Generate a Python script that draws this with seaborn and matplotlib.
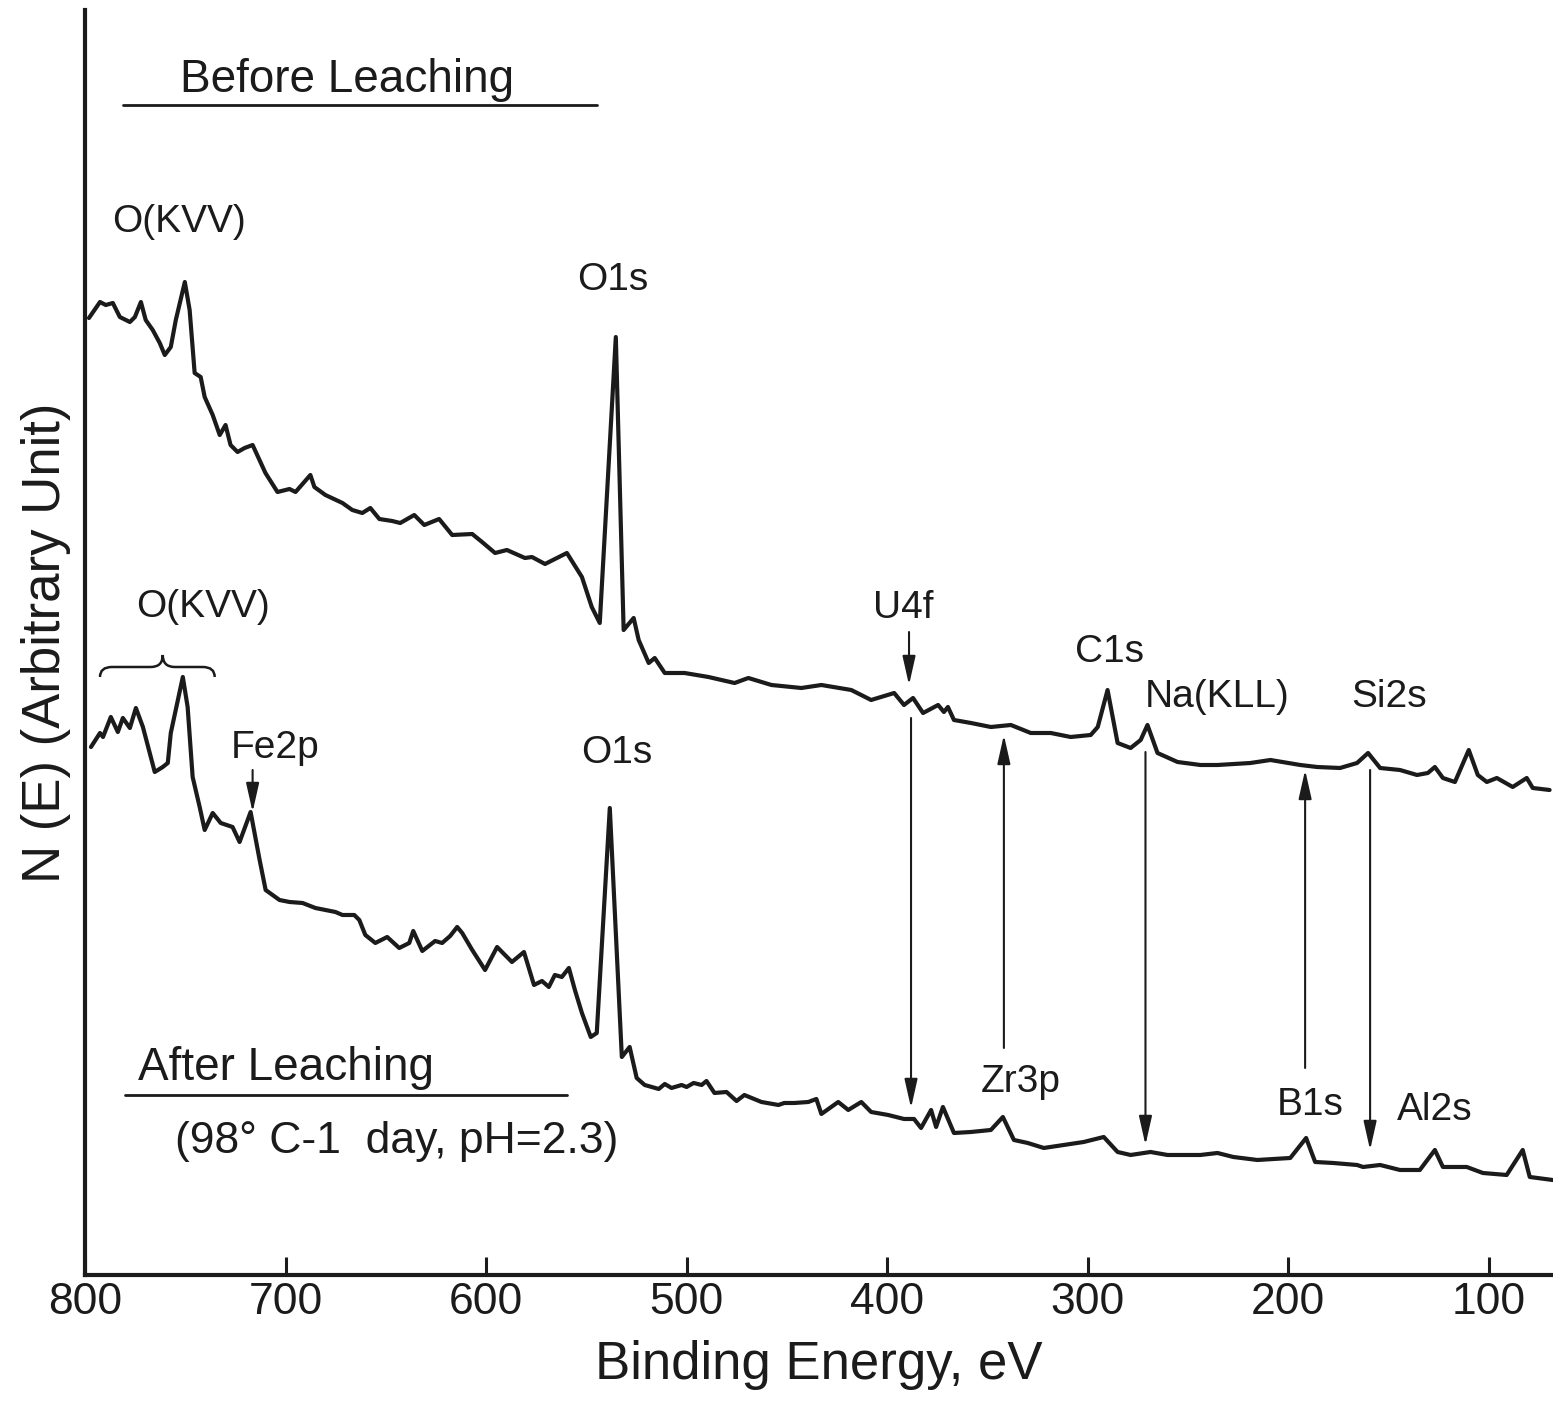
import matplotlib
matplotlib.use("Agg")
import matplotlib.pyplot as plt
from matplotlib.path import Path
from matplotlib.patches import PathPatch
import seaborn as sns
import pandas as pd

# ---------------------------------------------------------------------------
# XPS survey spectra (binding energy in eV, N(E) in a.u.)
# ---------------------------------------------------------------------------
be_before = [798.0, 792.5, 789.6, 786.1, 782.6, 777.6, 775.1, 772.1, 769.7, 766.2,
             762.7, 760.2, 757.2, 754.7, 750.2, 747.8, 745.3, 742.3, 740.3, 736.3,
             732.8, 729.9, 727.4, 723.9, 720.4, 716.4, 710.0, 704.0, 698.0, 695.0,
             687.6, 685.6, 680.1, 671.6, 666.7, 661.7, 657.7, 653.2, 646.8, 642.8,
             635.8, 630.8, 623.4, 616.9, 606.9, 602.0, 595.5, 589.6, 580.6, 577.1,
             570.6, 559.7, 552.2, 547.3, 543.3, 535.3, 531.4, 526.4, 523.9, 518.9,
             515.9, 510.9, 501.0, 489.1, 476.1, 469.2, 457.7, 442.8, 432.8, 417.9,
             408.0, 396.5, 391.6, 387.1, 382.1, 374.6, 371.7, 369.7, 366.7, 358.2,
             348.3, 338.3, 328.4, 318.4, 308.5, 298.5, 295.0, 290.1, 285.1, 278.6,
             273.6, 270.2, 265.2, 255.2, 243.8, 235.3, 218.9, 208.9, 194.0, 185.6,
             174.2, 165.7, 160.2, 154.2, 144.3, 135.8, 130.4, 126.9, 122.9, 116.9,
             110.0, 105.5, 101.0, 96.0, 88.1, 81.1, 78.1, 69.7]
n_before = [95.7, 97.3, 97.0, 97.2, 95.8, 95.3, 95.8, 97.3, 95.5, 94.5,
            93.2, 92.0, 92.8, 95.5, 99.3, 96.5, 90.2, 89.8, 87.8, 86.0,
            84.0, 85.0, 83.0, 82.3, 82.7, 83.0, 80.2, 78.3, 78.6, 78.3,
            80.0, 78.8, 78.0, 77.2, 76.5, 76.2, 76.7, 75.6, 75.4, 75.2,
            76.0, 75.0, 75.6, 74.0, 74.1, 73.3, 72.2, 72.5, 71.7, 71.8,
            71.1, 72.2, 69.8, 66.8, 65.2, 93.8, 64.5, 65.7, 63.5, 61.2,
            61.7, 60.2, 60.2, 59.8, 59.2, 59.7, 59.0, 58.7, 59.0, 58.5,
            57.5, 58.2, 57.0, 57.7, 56.2, 57.0, 56.3, 56.8, 55.5, 55.2,
            54.8, 55.0, 54.2, 54.2, 53.8, 54.0, 54.8, 58.5, 53.2, 52.7,
            53.5, 55.0, 52.2, 51.3, 51.0, 51.0, 51.2, 51.5, 51.0, 50.8,
            50.7, 51.2, 52.2, 50.7, 50.5, 50.0, 50.2, 50.8, 49.7, 49.3,
            52.5, 50.0, 49.3, 49.7, 48.8, 49.7, 48.7, 48.5]

be_after = [797.0, 792.5, 791.0, 787.1, 783.6, 781.1, 777.6, 774.6, 771.1, 767.7,
            765.2, 761.2, 758.7, 757.2, 751.2, 748.8, 746.3, 742.8, 740.3, 736.3,
            732.3, 726.4, 722.9, 717.4, 712.9, 709.9, 703.0, 698.0, 691.5, 685.1,
            675.1, 671.6, 665.7, 663.2, 660.2, 655.2, 649.3, 643.3, 638.3, 636.3,
            631.8, 625.4, 621.9, 617.9, 614.4, 611.9, 606.9, 600.5, 594.5, 587.1,
            581.1, 576.1, 572.1, 568.7, 565.7, 562.2, 558.7, 555.7, 552.2, 547.8,
            544.8, 538.3, 532.3, 528.4, 524.9, 520.9, 513.9, 510.9, 507.5, 502.5,
            500.0, 496.5, 492.5, 490.1, 486.1, 480.1, 475.1, 471.2, 462.7, 454.2,
            451.3, 446.3, 439.3, 435.3, 432.8, 424.4, 419.4, 412.9, 408.0, 399.5,
            391.6, 386.6, 383.1, 378.1, 375.6, 372.2, 366.7, 358.2, 348.3, 342.3,
            336.8, 329.9, 321.9, 312.0, 302.0, 292.0, 285.1, 278.6, 268.7, 260.2,
            243.8, 235.3, 227.4, 215.4, 199.0, 191.1, 186.6, 177.6, 165.7, 162.7,
            154.2, 144.3, 134.4, 126.9, 122.9, 111.0, 103.0, 91.1, 83.1, 79.6, 68.2]
n_after = [52.8, 54.2, 53.8, 55.8, 54.3, 55.7, 54.7, 56.7, 54.8, 52.2,
           50.3, 50.8, 51.2, 54.2, 59.8, 56.8, 49.8, 46.8, 44.5, 46.2,
           45.2, 44.8, 43.3, 46.3, 41.5, 38.5, 37.5, 37.3, 37.2, 36.7,
           36.3, 36.0, 36.0, 35.5, 34.0, 33.2, 33.8, 32.7, 33.2, 34.4,
           32.4, 33.4, 33.2, 33.9, 34.8, 34.2, 32.5, 30.5, 32.8, 31.3,
           32.3, 29.0, 29.4, 28.8, 30.0, 29.8, 30.7, 28.5, 26.2, 23.8,
           24.2, 46.7, 21.8, 22.8, 19.7, 19.0, 18.6, 19.1, 18.7, 19.0,
           18.8, 19.2, 19.0, 19.4, 18.2, 18.3, 17.4, 18.0, 17.3, 17.0,
           17.2, 17.2, 17.3, 17.6, 16.1, 17.3, 16.5, 17.3, 16.3, 16.0,
           15.6, 15.6, 14.7, 16.5, 14.8, 16.8, 14.2, 14.3, 14.5, 15.8,
           13.5, 13.2, 12.7, 13.0, 13.3, 13.8, 12.3, 12.0, 12.3, 12.0,
           12.0, 12.2, 11.8, 11.5, 11.7, 13.7, 11.3, 11.2, 11.0, 10.8,
           11.0, 10.5, 10.5, 12.5, 10.8, 10.8, 10.2, 10.0, 12.5, 9.8, 9.5]

x_ticks = [800, 700, 600, 500, 400, 300, 200, 100]

INK = "#1b1b1b"
FONT = ["Liberation Sans", "DejaVu Sans"]


def brace_path(x_left, x_mid, x_right, y_end, y_flat, y_tip, curl):
    """Curly brace opening downward, tip pointing up."""
    verts = [
        (x_left, y_end),
        (x_left, y_flat), (x_left - curl, y_flat),
        (x_mid + curl, y_flat),
        (x_mid, y_flat), (x_mid, y_tip),
        (x_mid, y_flat), (x_mid - curl, y_flat),
        (x_right + curl, y_flat),
        (x_right, y_flat), (x_right, y_end),
    ]
    codes = [Path.MOVETO,
             Path.CURVE3, Path.CURVE3,
             Path.LINETO,
             Path.CURVE3, Path.CURVE3,
             Path.CURVE3, Path.CURVE3,
             Path.LINETO,
             Path.CURVE3, Path.CURVE3]
    return Path(verts, codes)


def main():
    assert len(be_before) == len(n_before) and len(be_after) == len(n_after)

    sns.set_theme(style="ticks")
    plt.rcParams["font.family"] = FONT
    plt.rcParams["axes.linewidth"] = 3.0

    df = pd.concat([
        pd.DataFrame({"be": be_before, "n": n_before, "series": "Before Leaching"}),
        pd.DataFrame({"be": be_after, "n": n_after, "series": "After Leaching"}),
    ], ignore_index=True)

    fig = plt.figure(figsize=(15.53, 14.11), dpi=100)
    ax = fig.add_axes([0.0547, 0.0964, 0.9453, 0.8965])

    sns.lineplot(data=df, x="be", y="n", units="series", estimator=None,
                 color=INK, linewidth=3.0, ax=ax, legend=False,
                 solid_joinstyle="round", solid_capstyle="round")

    ax.set_xlim(800, 68)
    ax.set_ylim(0, 126.5)
    ax.set_xticks(x_ticks)
    ax.set_yticks([])
    ax.tick_params(axis="x", direction="in", length=13, width=2.2,
                   labelsize=32, pad=5, colors=INK)
    for s in ("top", "right"):
        ax.spines[s].set_visible(False)
    for s in ("left", "bottom"):
        ax.spines[s].set_color(INK)

    ax.set_xlabel("Binding Energy, eV", fontsize=38, labelpad=12, color=INK)
    ax.set_ylabel("N (E) (Arbitrary Unit)", fontsize=38, labelpad=10, color=INK)

    # titles of both spectra with their underlines
    ax.text(669.2, 119.5, "Before Leaching", fontsize=33, ha="center", va="center", color=INK)
    ax.plot([781.1, 544.8], [117.0, 117.0], color=INK, lw=2.0)
    ax.text(700.0, 20.7, "After Leaching", fontsize=33, ha="center", va="center", color=INK)
    ax.plot([780.1, 559.7], [18.0, 18.0], color=INK, lw=2.0)
    ax.text(644.8, 13.3, "(98° C-1  day, pH=2.3)", fontsize=32, ha="center", va="center", color=INK)

    # peak labels
    peak_labels = [
        ("O(KVV)", 753.2, 105.3),
        ("O1s", 536.8, 99.5),
        ("O(KVV)", 741.3, 66.8),
        ("Fe2p", 705.0, 52.7),
        ("O1s", 534.8, 52.2),
        ("U4f", 392.0, 66.7),
        ("C1s", 289.1, 62.3),
        ("Na(KLL)", 235.3, 57.8),
        ("Si2s", 149.8, 57.8),
        ("Zr3p", 333.3, 19.3),
        ("B1s", 189.1, 17.0),
        ("Al2s", 126.9, 16.5),
    ]
    for txt, x, y in peak_labels:
        ax.text(x, y, txt, fontsize=28, ha="center", va="center", color=INK)

    # brace spanning the O(KVV) region of the leached spectrum
    ax.add_patch(PathPatch(brace_path(792.5, 761.2, 735.3, 59.8, 60.8, 62.0, 6.0),
                           facecolor="none", edgecolor=INK, lw=1.8))

    # arrows: (x, y_tail, y_head)
    arrows = [
        (716.4, 50.5, 46.3),
        (389.1, 64.3, 59.0),
        (388.1, 55.7, 16.7),
        (341.8, 22.7, 54.0),
        (271.2, 52.3, 13.0),
        (191.6, 20.7, 50.5),
        (159.2, 50.5, 12.5),
    ]
    for x, y0, y1 in arrows:
        ax.annotate("", xy=(x, y1), xytext=(x, y0),
                    arrowprops=dict(arrowstyle="-|>,head_length=0.8,head_width=0.18",
                                    mutation_scale=22, color=INK, lw=1.5,
                                    shrinkA=0, shrinkB=0))

    fig.savefig("out.png", dpi=100)


if __name__ == "__main__":
    main()
